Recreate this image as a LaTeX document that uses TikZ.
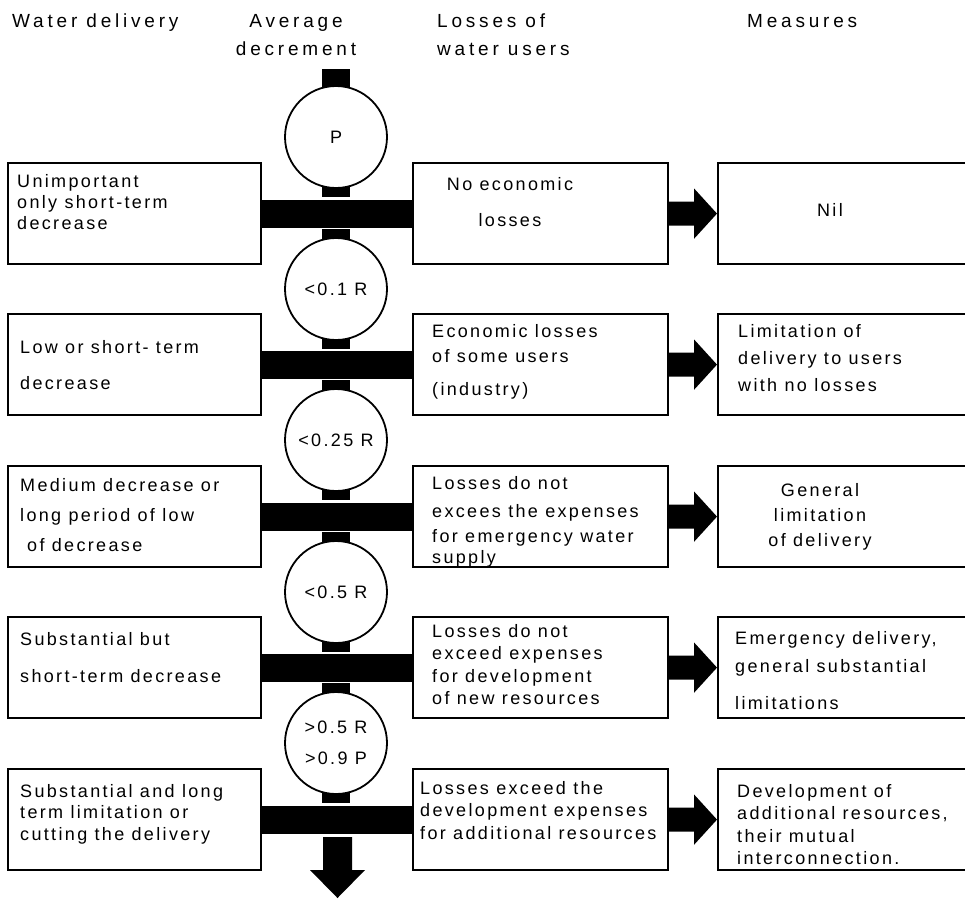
\documentclass[tikz,border=0pt]{standalone}
\usepackage{fontspec}
\setmainfont[LetterSpace=13]{Liberation Sans}
\usetikzlibrary{calc}
\newcommand\fatarrow[2]{%
  \fill ($(#1.east)+(0,-12)$) -- ($(#1.east)+(25,-12)$) -- ($(#1.east)+(25,-25)$)
     -- (#2.west) -- ($(#1.east)+(25,25)$) -- ($(#1.east)+(25,12)$) -- ($(#1.east)+(0,12)$) -- cycle;}
\newcommand\tabs[1]{%
  \fill ($(#1.north)+(-14,2)$) rectangle ($(#1.north)+(14,-8)$);
  \fill ($(#1.south)+(-14,-2)$) rectangle ($(#1.south)+(14,8)$);}
\begin{document}
\begin{tikzpicture}[x=1pt,y=-1pt,
  lsk/.style={font=\fontsize{18}{#1}\selectfont},
  hsk/.style={font=\fontsize{19}{#1}\selectfont\addfontfeatures{LetterSpace=20}},
  boxl/.style={draw, line width=2.2pt, minimum width=253pt, minimum height=101pt, inner sep=0pt, anchor=north west},
  boxm/.style={boxl, minimum width=255pt},
  boxr/.style={boxl, minimum width=260pt},
  txt/.style={inner sep=0pt, anchor=north west, align=left, lsk=21pt},
  htxt/.style={txt, hsk=28pt},
  ctxt/.style={txt, anchor=north, align=center},
  disc/.style={circle, draw, line width=1.8pt, minimum size=102pt, inner sep=0pt, font=\fontsize{18}{31pt}\selectfont, align=center},
  bar/.style={line width=28pt}]
\useasboundingbox (0,0) rectangle (965,898);

% headers
\node[htxt] (h1) at (12,14) {Water delivery};
\node[htxt, anchor=north, align=center] (h2) at (296,14) {Average\\decrement};
\node[htxt] (h3) at (437,14) {Losses of\\water users};
\node[htxt] (h4) at (747,14) {Measures};

% boxes
\foreach \i/\y in {1/162,2/313,3/465,4/616,5/768}{
  \node[boxl] (L\i) at (7,\y) {};
  \node[boxm] (M\i) at (412,\y) {};
  \node[boxr] (R\i) at (717,\y) {};
}

% circles
\node[disc] (C1) at (336,137) {P};
\node[disc] (C2) at (336,289) {<0.1 R};
\node[disc] (C3) at (336,440) {<0.25 R};
\node[disc] (C4) at (336,592) {<0.5 R};
\node[disc] (C5) at (336,743) {>0.5 R\\>0.9 P};
\fill ($(C1.north)+(-14,2)$) rectangle ($(C1.north)+(14,-16)$);
\fill ($(C1.south)+(-14,-2)$) rectangle ($(C1.south)+(14,8)$);
\tabs{C2}\tabs{C3}\tabs{C4}\tabs{C5}

% bars and arrows
\foreach \i in {1,...,5}{
  \draw[bar] (L\i.east) -- (M\i.west);
  \fatarrow{M\i}{R\i}
}
\coordinate (dn) at (337.5,837);
\fill ($(dn)+(-14.5,0)$) -- ($(dn)+(14.5,0)$) -- ($(dn)+(14.5,33)$) -- ($(dn)+(27.5,33)$)
   -- ($(dn)+(0,61)$) -- ($(dn)+(-27.5,33)$) -- ($(dn)+(-14.5,33)$) -- cycle;

% texts row 1
\node[txt] (L1t) at (17,174) {Unimportant\\only short-term\\decrease};
\node[ctxt, lsk=36pt] (M1t) at (510,177) {No economic\\losses};
\node[inner sep=0pt, font=\fontsize{18}{21}\selectfont] (R1t) at (830,210) {Nil};
% row 2
\node[txt, lsk=36pt] (L2t) at (20,340) {Low or short- term\\decrease};
\node[txt, lsk=25pt] (M2t) at (432,324) {Economic losses\\of some users\\[8pt](industry)};
\node[txt, lsk=27pt] (R2t) at (738,324) {Limitation of\\delivery to users\\with no losses};
% row 3
\node[txt, lsk=30pt] (L3t) at (20,478) {Medium decrease or\\long period of low\\\hspace*{7pt}of decrease};
\node[txt, lsk=25pt] (M3t) at (432,476) {Losses do not\\[3pt]excees the expenses\\for emergency water\\[-4pt]supply};
\node[ctxt, lsk=25pt] (R3t) at (820,483) {General\\limitation\\of delivery};
% row 4
\node[txt, lsk=37pt] (L4t) at (20,632) {Substantial but\\short-term decrease};
\node[txt, lsk=22.5pt] (M4t) at (432,624) {Losses do not\\exceed expenses\\for development\\of new resources};
\node[txt, lsk=28pt] (R4t) at (735,631) {Emergency delivery,\\general substantial\\[9pt]limitations};
% row 5
\node[txt, lsk=21.5pt] (L5t) at (20,784) {Substantial and long\\term limitation or\\cutting the delivery};
\node[txt, lsk=22.5pt] (M5t) at (420,781) {Losses exceed the\\development expenses\\for additional resources};
\node[txt, lsk=22.5pt] (R5t) at (737,784) {Development of\\additional resources,\\their mutual\\interconnection.};
\end{tikzpicture}
\end{document}
